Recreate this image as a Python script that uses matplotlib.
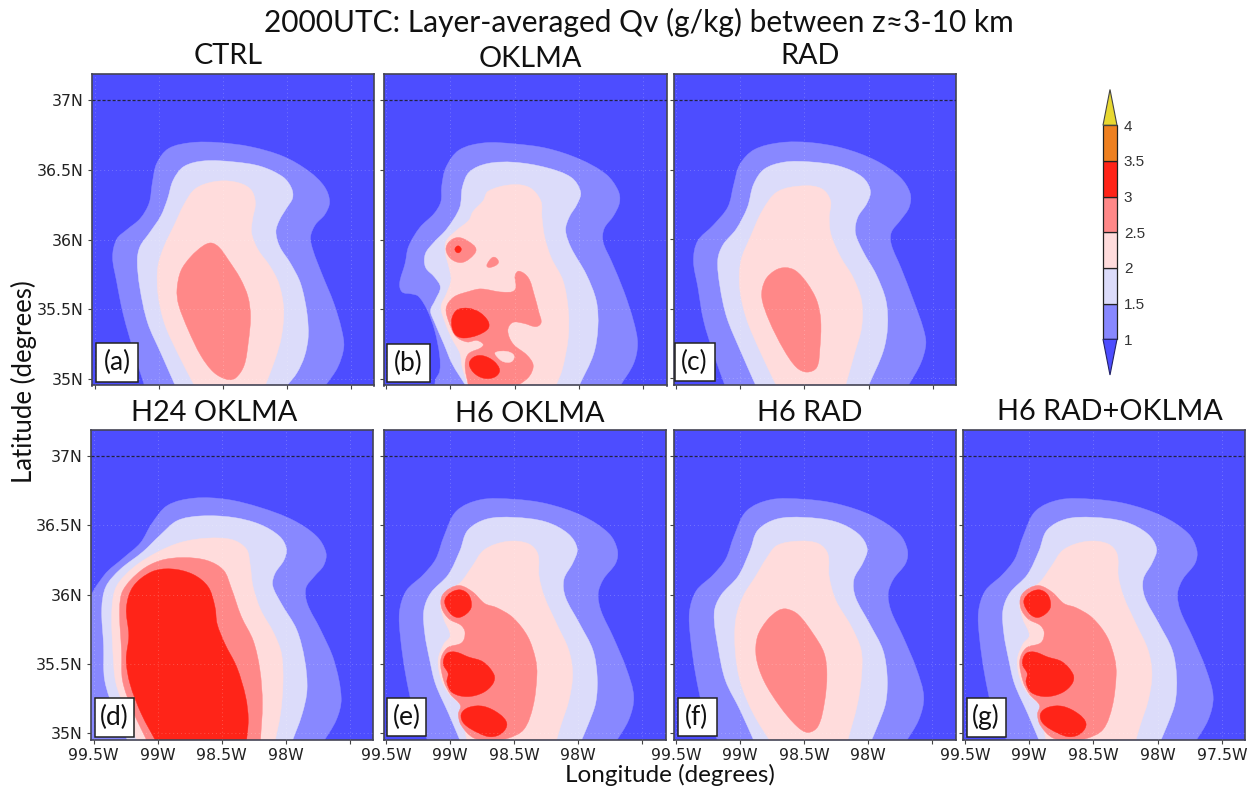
import matplotlib
matplotlib.use("Agg")
import matplotlib.pyplot as plt
import numpy as np
from matplotlib.path import Path
from matplotlib.patches import PathPatch, Rectangle, Polygon

W, H = 1258, 790

LEVELS = [1, 1.5, 2, 2.5, 3, 3.5, 4]
LEVEL_LABELS = ["1", "1.5", "2", "2.5", "3", "3.5", "4"]
COLORS = {"under": "#4d4dff", 1: "#8888ff", 1.5: "#dcdcfa", 2: "#ffdcdc",
          2.5: "#ff8888", 3: "#ff2418", 3.5: "#ee8020", 4: "#e8d830"}

LON_TICKS = [99.5, 99, 98.5, 98, 97.5]
LON_LABELS = ["99.5W", "99W", "98.5W", "98W", "97.5W"]
LAT_TICKS = [37, 36.5, 36, 35.5, 35]
LAT_LABELS = ["37N", "36.5N", "36N", "35.5N", "35N"]

# contours as (degrees west, degrees north)
A_10 = [(99.11,34.95),(99.19,35.18),(99.28,35.47),(99.33,35.71),(99.365,35.88),(99.33,36.01),(99.25,36.07),(99.14,36.15),(99.07,36.26),(99.05,36.41),(99.02,36.55),(98.93,36.66),(98.75,36.70),(98.54,36.70),(98.28,36.67),(98.02,36.60),(97.82,36.49),(97.70,36.38),(97.66,36.27),(97.70,36.18),(97.78,36.11),(97.82,36.02),(97.80,35.93),(97.73,35.76),(97.63,35.54),(97.57,35.35),(97.55,35.23),(97.60,35.08),(97.70,34.95)]
A_15 = [(98.87,34.95),(98.98,35.18),(99.09,35.40),(99.15,35.66),(99.17,35.86),(99.15,35.95),(99.07,36.05),(98.98,36.17),(98.93,36.29),(98.89,36.43),(98.81,36.53),(98.65,36.57),(98.41,36.56),(98.20,36.53),(98.02,36.45),(97.96,36.37),(97.95,36.30),(98.00,36.23),(98.06,36.14),(98.09,36.06),(98.06,35.95),(97.97,35.83),(97.89,35.69),(97.84,35.47),(97.83,35.30),(97.86,35.16),(97.92,35.04),(98.00,34.95)]
A_20 = [(98.72,34.95),(98.85,35.18),(98.96,35.40),(99.01,35.62),(99.01,35.81),(98.96,35.95),(98.88,36.10),(98.80,36.26),(98.72,36.37),(98.57,36.42),(98.41,36.42),(98.28,36.37),(98.24,36.27),(98.27,36.14),(98.28,36.05),(98.23,35.93),(98.13,35.81),(98.06,35.69),(98.02,35.50),(98.04,35.30),(98.09,35.14),(98.17,34.95)]
A_25 = [(98.59,35.98),(98.53,35.95),(98.46,35.86),(98.36,35.72),(98.30,35.59),(98.28,35.45),(98.30,35.26),(98.33,35.09),(98.40,35.00),(98.46,34.99),(98.57,35.04),(98.67,35.16),(98.77,35.35),(98.85,35.54),(98.86,35.64),(98.83,35.78),(98.75,35.88),(98.65,35.96)]

B_10 = [(99.12,34.95),(99.12,34.99),(99.08,35.05),(99.08,35.16),(99.12,35.35),(99.18,35.50),(99.25,35.60),(99.30,35.61),(99.38,35.62),(99.40,35.68),(99.35,35.83),(99.33,35.95),(99.24,36.09),(99.12,36.19),(99.07,36.27),(99.07,36.38),(99.04,36.52),(98.94,36.65),(98.74,36.70),(98.51,36.69),(98.25,36.66),(97.99,36.58),(97.78,36.47),(97.69,36.35),(97.68,36.27),(97.73,36.17),(97.81,36.08),(97.82,35.99),(97.75,35.85),(97.65,35.63),(97.57,35.40),(97.54,35.25),(97.57,35.11),(97.68,34.95)]
B_15 = [(98.88,34.95),(98.99,35.11),(99.05,35.25),(99.13,35.42),(99.16,35.49),(99.12,35.56),(99.07,35.66),(99.12,35.73),(99.20,35.80),(99.20,35.90),(99.13,35.98),(99.03,36.07),(98.92,36.23),(98.91,36.38),(98.86,36.49),(98.72,36.55),(98.51,36.56),(98.25,36.52),(98.05,36.45),(97.98,36.34),(98.01,36.26),(98.08,36.16),(98.11,36.07),(98.07,35.95),(97.94,35.75),(97.86,35.56),(97.85,35.37),(97.88,35.18),(98.00,34.95)]
B_20 = [(98.86,34.95),(98.91,35.08),(98.92,35.18),(98.99,35.29),(99.04,35.40),(99.08,35.52),(99.03,35.61),(98.99,35.71),(99.01,35.80),(99.04,35.90),(99.04,35.99),(98.95,36.07),(98.85,36.14),(98.83,36.20),(98.74,36.28),(98.72,36.35),(98.52,36.40),(98.38,36.38),(98.29,36.28),(98.29,36.16),(98.27,36.02),(98.22,35.87),(98.12,35.71),(98.08,35.49),(98.08,35.30),(98.13,35.06),(98.18,34.95)]
B_25 = [(98.86,34.95),(98.89,35.10),(98.87,35.18),(98.73,35.24),(98.79,35.28),(98.87,35.26),(98.96,35.30),(99.01,35.40),(99.04,35.51),(98.98,35.59),(98.85,35.63),(98.77,35.65),(98.59,35.62),(98.49,35.63),(98.50,35.75),(98.47,35.78),(98.39,35.73),(98.35,35.61),(98.31,35.47),(98.29,35.40),(98.33,35.37),(98.43,35.40),(98.52,35.41),(98.56,35.35),(98.52,35.25),(98.40,35.17),(98.35,35.10),(98.38,35.02),(98.46,34.96),(98.50,34.95)]
B_HOLE = [(98.66,35.19),(98.56,35.20),(98.50,35.17),(98.52,35.12),(98.59,35.12),(98.64,35.16)]
B_25_TOP = [(99.04,35.93),(99.01,35.99),(98.94,36.02),(98.86,35.99),(98.79,35.93),(98.85,35.86),(98.92,35.83),(99.00,35.86)]
B_25_SMALL = [(98.72,35.80),(98.70,35.85),(98.66,35.88),(98.62,35.84),(98.65,35.81)]
B_30_DOT = [(98.97,35.93),(98.94,35.96),(98.91,35.93),(98.94,35.90)]
B_30_MID = [(98.99,35.44),(98.95,35.50),(98.86,35.51),(98.77,35.48),(98.70,35.41),(98.70,35.36),(98.79,35.31),(98.90,35.29),(98.96,35.31),(98.99,35.37)]
B_30_LOW = [(98.86,35.11),(98.82,35.16),(98.75,35.17),(98.66,35.13),(98.61,35.06),(98.65,35.01),(98.74,35.00),(98.82,35.04)]

C_10 = [(99.12,34.95),(99.21,35.18),(99.29,35.42),(99.33,35.66),(99.37,35.85),(99.34,35.99),(99.21,36.10),(99.09,36.23),(99.05,36.40),(99.01,36.54),(98.90,36.65),(98.69,36.70),(98.46,36.70),(98.20,36.66),(97.94,36.57),(97.75,36.45),(97.67,36.33),(97.68,36.23),(97.75,36.14),(97.83,36.05),(97.83,35.97),(97.75,35.80),(97.65,35.56),(97.57,35.35),(97.55,35.25),(97.59,35.11),(97.69,34.95)]
C_15 = [(98.88,34.95),(99.00,35.20),(99.11,35.44),(99.16,35.66),(99.18,35.86),(99.14,35.96),(99.03,36.07),(98.94,36.23),(98.90,36.40),(98.82,36.51),(98.66,36.56),(98.46,36.56),(98.22,36.53),(98.04,36.45),(97.98,36.35),(98.01,36.26),(98.09,36.16),(98.11,36.05),(98.05,35.92),(97.94,35.75),(97.86,35.56),(97.85,35.37),(97.88,35.20),(98.00,34.95)]
C_20 = [(98.72,34.95),(98.85,35.20),(98.96,35.44),(99.01,35.66),(99.00,35.85),(98.92,36.02),(98.83,36.21),(98.72,36.35),(98.51,36.39),(98.36,36.37),(98.29,36.28),(98.31,36.16),(98.30,36.04),(98.22,35.87),(98.12,35.73),(98.05,35.56),(98.05,35.37),(98.11,35.18),(98.18,34.95)]
C_25 = [(98.65,35.80),(98.57,35.78),(98.48,35.69),(98.40,35.56),(98.37,35.42),(98.38,35.20),(98.40,35.07),(98.48,35.04),(98.56,35.07),(98.66,35.20),(98.78,35.42),(98.84,35.59),(98.81,35.71),(98.73,35.78)]

D_10 = [(99.55,34.92),(99.55,36.00),(99.42,36.14),(99.26,36.27),(99.13,36.37),(99.05,36.51),(98.93,36.65),(98.72,36.70),(98.46,36.69),(98.20,36.63),(97.94,36.54),(97.75,36.42),(97.68,36.30),(97.70,36.21),(97.78,36.13),(97.85,36.05),(97.84,35.94),(97.73,35.75),(97.62,35.53),(97.56,35.24),(97.60,35.10),(97.72,34.92)]
D_15 = [(99.22,34.92),(99.33,35.14),(99.42,35.38),(99.42,35.63),(99.44,35.91),(99.41,36.06),(99.30,36.18),(99.11,36.31),(98.98,36.43),(98.85,36.54),(98.67,36.57),(98.41,36.56),(98.20,36.51),(98.04,36.42),(97.99,36.33),(98.01,36.25),(98.09,36.15),(98.11,36.07),(98.04,35.94),(97.91,35.75),(97.85,35.53),(97.83,35.31),(97.87,35.14),(97.96,34.92)]
D_20 = [(99.15,34.92),(99.26,35.19),(99.33,35.36),(99.35,35.58),(99.36,35.91),(99.33,36.06),(99.19,36.20),(99.00,36.31),(98.82,36.38),(98.61,36.41),(98.41,36.40),(98.30,36.33),(98.28,36.23),(98.26,36.06),(98.20,35.89),(98.09,35.72),(98.03,35.58),(98.02,35.36),(98.04,35.14),(98.09,34.92)]
D_25 = [(99.07,34.92),(99.20,35.17),(99.28,35.38),(99.28,35.58),(99.30,35.91),(99.28,36.03),(99.13,36.18),(98.98,36.25),(98.80,36.27),(98.61,36.25),(98.48,36.18),(98.43,36.06),(98.35,35.84),(98.25,35.67),(98.20,35.46),(98.18,35.22),(98.20,34.92)]
D_30 = [(99.00,34.92),(99.13,35.14),(99.22,35.36),(99.25,35.53),(99.22,35.70),(99.25,35.91),(99.20,36.06),(99.05,36.17),(98.90,36.19),(98.72,36.15),(98.60,36.06),(98.55,35.91),(98.54,35.79),(98.48,35.65),(98.38,35.48),(98.31,35.26),(98.29,35.10),(98.31,34.92)]

E_10 = [(99.16,34.92),(99.29,35.17),(99.35,35.43),(99.39,35.70),(99.40,35.88),(99.35,36.03),(99.21,36.14),(99.11,36.25),(99.05,36.42),(98.96,36.61),(98.77,36.69),(98.51,36.69),(98.25,36.66),(97.96,36.57),(97.75,36.44),(97.69,36.32),(97.70,36.23),(97.81,36.11),(97.85,36.01),(97.83,35.89),(97.73,35.70),(97.62,35.46),(97.56,35.26),(97.60,35.10),(97.72,34.92)]
E_15 = [(98.91,34.92),(99.01,35.14),(99.12,35.36),(99.16,35.53),(99.20,35.72),(99.21,35.89),(99.16,36.01),(99.01,36.14),(98.92,36.32),(98.87,36.47),(98.72,36.55),(98.51,36.56),(98.25,36.53),(98.07,36.44),(98.00,36.33),(98.04,36.23),(98.12,36.11),(98.11,35.99),(97.99,35.79),(97.88,35.60),(97.85,35.41),(97.86,35.22),(97.92,35.07),(97.99,34.92)]
E_20 = [(98.86,34.92),(98.90,35.07),(98.91,35.20),(99.01,35.28),(99.07,35.38),(99.10,35.53),(99.05,35.65),(98.99,35.70),(99.05,35.82),(99.08,35.93),(99.03,36.03),(98.92,36.08),(98.83,36.20),(98.74,36.33),(98.55,36.39),(98.38,36.37),(98.31,36.30),(98.31,36.13),(98.27,35.99),(98.17,35.79),(98.07,35.60),(98.04,35.43),(98.07,35.24),(98.14,35.05),(98.18,34.92)]
E_25 = [(98.82,34.96),(98.92,35.06),(98.94,35.14),(98.91,35.20),(99.00,35.28),(99.05,35.37),(99.08,35.53),(99.03,35.62),(98.90,35.65),(98.88,35.73),(98.91,35.78),(99.01,35.82),(99.07,35.90),(99.07,35.99),(99.00,36.05),(98.92,36.07),(98.82,36.02),(98.73,35.93),(98.64,35.91),(98.51,35.84),(98.39,35.70),(98.33,35.53),(98.32,35.43),(98.35,35.19),(98.42,35.02),(98.55,34.96),(98.69,34.95)]
E_30_TOP = [(99.05,35.95),(99.01,36.01),(98.92,36.04),(98.85,36.00),(98.83,35.91),(98.87,35.86),(98.94,35.83),(99.00,35.86)]
E_30_MID = [(99.06,35.50),(99.03,35.58),(98.96,35.59),(98.86,35.55),(98.74,35.52),(98.65,35.42),(98.66,35.36),(98.74,35.29),(98.87,35.26),(98.99,35.29),(99.03,35.37),(99.01,35.43)]
E_30_LOW = [(98.92,35.14),(98.86,35.19),(98.74,35.20),(98.61,35.14),(98.55,35.07),(98.59,35.00),(98.68,34.97),(98.78,35.00),(98.90,35.07)]

F_15 = [(98.88,34.92),(99.00,35.17),(99.12,35.38),(99.17,35.60),(99.21,35.88),(99.16,35.99),(99.01,36.13),(98.92,36.32),(98.87,36.47),(98.72,36.55),(98.51,36.56),(98.25,36.53),(98.07,36.44),(98.00,36.33),(98.04,36.23),(98.12,36.11),(98.11,35.99),(97.99,35.79),(97.88,35.60),(97.85,35.41),(97.86,35.22),(97.92,35.07),(97.99,34.92)]
F_20 = [(98.75,34.92),(98.90,35.14),(99.00,35.36),(99.04,35.58),(99.04,35.82),(98.98,35.99),(98.88,36.13),(98.79,36.27),(98.72,36.36),(98.53,36.39),(98.38,36.37),(98.31,36.30),(98.31,36.13),(98.26,35.96),(98.13,35.77),(98.05,35.60),(98.05,35.43),(98.08,35.22),(98.17,34.92)]
F_25 = [(98.64,35.90),(98.55,35.865),(98.43,35.72),(98.34,35.58),(98.32,35.43),(98.34,35.22),(98.39,35.04),(98.47,35.00),(98.55,35.04),(98.69,35.19),(98.82,35.38),(98.88,35.55),(98.87,35.70),(98.79,35.82),(98.70,35.89)]

TITLE = "2000UTC: Layer-averaged Qv (g/kg) between z\u22483-10 km"
XLABEL = "Longitude (degrees)"
YLABEL = "Latitude (degrees)"

# (contours: level, points, closed) for each panel
PANELS = [
    dict(title="CTRL", tag="(a)", box=(92, 74, 374, 385.5), title_xy=(228, 56), tag_box=(96, 343.5, 138, 382),
         layers=[(1, A_10, False), (1.5, A_15, False), (2, A_20, False), (2.5, A_25, True)]),
    dict(title="OKLMA", tag="(b)", box=(383.5, 74, 666.5, 385.5), title_xy=(530, 59), tag_box=(387, 344, 430, 382),
         layers=[(1, B_10, False), (1.5, B_15, False), (2, B_20, False), (2.5, B_25, False), (2, B_HOLE, True),
                 (2.5, B_25_TOP, True), (2.5, B_25_SMALL, True), (3, B_30_DOT, True), (3, B_30_MID, True), (3, B_30_LOW, True)]),
    dict(title="RAD", tag="(c)", box=(673.5, 74, 956, 385), title_xy=(810, 56), tag_box=(674.5, 343, 714.5, 381.5),
         layers=[(1, C_10, False), (1.5, C_15, False), (2, C_20, False), (2.5, C_25, True)]),
    dict(title="H24 OKLMA", tag="(d)", box=(91, 429.5, 373, 740), title_xy=(214, 413), tag_box=(94.5, 698, 133.5, 736.5),
         layers=[(1, D_10, False), (1.5, D_15, False), (2, D_20, False), (2.5, D_25, False), (3, D_30, False)]),
    dict(title="H6 OKLMA", tag="(e)", box=(383.5, 429.5, 665.5, 740), title_xy=(530, 414), tag_box=(387, 698, 426, 736),
         layers=[(1, E_10, False), (1.5, E_15, False), (2, E_20, False), (2.5, E_25, True), (3, E_30_TOP, True), (3, E_30_MID, True), (3, E_30_LOW, True)]),
    dict(title="H6 RAD", tag="(f)", box=(673.5, 429.5, 955.5, 740), title_xy=(810, 413), tag_box=(677.5, 698, 716.5, 736),
         layers=[(1, E_10, False), (1.5, F_15, False), (2, F_20, False), (2.5, F_25, True)]),
    dict(title="H6 RAD+OKLMA", tag="(g)", box=(962.5, 429.5, 1245, 740), title_xy=(1110, 412), tag_box=(966.5, 698, 1005.5, 736.5),
         layers=[(1, E_10, False), (1.5, E_15, False), (2, E_20, False), (2.5, E_25, True), (3, E_30_TOP, True), (3, E_30_MID, True), (3, E_30_LOW, True)]),
]

LATIN = "Lato"
TICK_FONT = 11.3
XLIM = (-99.52, -97.32)
YLIM = (34.952, 37.19)


def curve(points, closed):
    p = np.array([(-a, b) for a, b in points], float)
    n = len(p)
    # soften the hand-read outline, keeping its ends
    q = p.copy()
    if closed:
        q = 0.84 * p + 0.08 * (np.roll(p, 1, axis=0) + np.roll(p, -1, axis=0))
    else:
        q[1:-1] = 0.84 * p[1:-1] + 0.08 * (p[:-2] + p[2:])
    p = q
    idx = lambda k: k % n if closed else min(max(k, 0), n - 1)

    def tangent(k):
        d = p[idx(k + 1)] - p[idx(k - 1)]
        nrm = np.hypot(d[0] * 128.5, d[1] * 139)
        return d / nrm if nrm else d

    verts, codes = [p[0]], [Path.MOVETO]
    count = n if closed else n - 1
    for i in range(count):
        a, b = p[idx(i)], p[idx(i + 1)]
        seg = np.hypot((b - a)[0] * 128.5, (b - a)[1] * 139)
        verts += [a + tangent(i) * seg / 3, b - tangent(i + 1) * seg / 3, b]
        codes += [Path.CURVE4] * 3
    if closed:
        verts.append(p[0])
        codes.append(Path.CLOSEPOLY)
    else:
        verts += [(p[-1][0], 34.6), (p[0][0], 34.6), p[0]]
        codes += [Path.LINETO, Path.LINETO, Path.CLOSEPOLY]
    return Path(np.array(verts), codes)


def add_axes(fig, l, t, r, b):
    return fig.add_axes([l / W, 1 - b / H, (r - l) / W, (b - t) / H])


fig = plt.figure(figsize=(W / 100, H / 100), dpi=100, facecolor="white")

for i, pn in enumerate(PANELS):
    ax = add_axes(fig, *pn["box"])
    ax.set_facecolor(COLORS["under"])
    ax.set_xlim(*XLIM)
    ax.set_ylim(*YLIM)
    for level, pts, closed in pn["layers"]:
        ax.add_patch(PathPatch(curve(pts, closed), facecolor=COLORS[level], edgecolor=COLORS[level], lw=0.3, zorder=2))
    ax.set_xticks([-v for v in LON_TICKS])
    ax.set_yticks(LAT_TICKS)
    ax.set_xticklabels(LON_LABELS[:4] + ["97.5W" if i == 6 else ""] if i >= 3 else [""] * 5,
                       fontsize=TICK_FONT, color="#222222")
    ax.set_yticklabels(LAT_LABELS if i in (0, 3) else [""] * 5, fontsize=TICK_FONT, color="#222222")
    ax.tick_params(length=3, width=0.8, color="#444444", pad=3)
    ax.grid(True, color="#ffffff", alpha=0.22, lw=0.7, ls=(0, (1, 3)), zorder=3)
    ax.set_axisbelow(False)
    ax.axhline(37, color="#222244", lw=0.9, ls=(0, (2.5, 1.5)), zorder=4)
    for s in ax.spines.values():
        s.set_color("#444455")
        s.set_linewidth(1.2)
    # panel tag
    l, t, r, b = pn["box"]
    tl, tt, tr, tb = pn["tag_box"]
    to_ax = lambda x, y: ((x - l) / (r - l), (b - y) / (b - t))
    x0, y0 = to_ax(tl, tb)
    x1, y1 = to_ax(tr, tt)
    ax.add_patch(Rectangle((x0, y0), x1 - x0, y1 - y0, transform=ax.transAxes, facecolor="white",
                           edgecolor="#222222", lw=1.1, zorder=6))
    ax.text((x0 + x1) / 2, (y0 + y1) / 2, pn["tag"], transform=ax.transAxes, ha="center", va="center",
            fontsize=19, family=LATIN, color="#111111", zorder=7)
    fig.text(pn["title_xy"][0] / W, 1 - pn["title_xy"][1] / H, pn["title"], ha="center", va="center",
             fontsize=20.8, family=LATIN, color="#111111")

fig.text(639 / W, 1 - 22 / H, TITLE, ha="center", va="center", fontsize=21.5, family=LATIN, color="#111111")
fig.text(670 / W, 1 - 775 / H, XLABEL, ha="center", va="center", fontsize=17.5, family=LATIN, color="#111111")
fig.text(24 / W, 1 - 382 / H, YLABEL, ha="center", va="center", rotation=90, fontsize=18.5, family=LATIN, color="#111111")

# colour scale
cax = add_axes(fig, 1103, 89.5, 1117, 375)
cax.set_xlim(0, 1)
cax.set_ylim(0.5, 4.5)
edges = LEVELS
for lo, hi in zip(edges[:-1], edges[1:]):
    cax.bar(0.5, hi - lo, bottom=lo, width=1, color=COLORS[lo], edgecolor="#222222", lw=0.9, clip_on=False)
cax.add_patch(Polygon([(0, edges[-1]), (1, edges[-1]), (0.5, 4.5)], facecolor=COLORS[4], edgecolor="#444444", lw=0.8, clip_on=False))
cax.add_patch(Polygon([(0, edges[0]), (1, edges[0]), (0.5, 0.5)], facecolor=COLORS["under"], edgecolor="#222266", lw=0.8, clip_on=False))
cax.set_xticks([])
cax.set_yticks(LEVELS)
cax.set_yticklabels(LEVEL_LABELS, fontsize=11, family="Liberation Sans", color="#333333")
cax.yaxis.tick_right()
cax.tick_params(length=0, pad=5)
for s in cax.spines.values():
    s.set_visible(False)

fig.savefig("out.png", dpi=100)
